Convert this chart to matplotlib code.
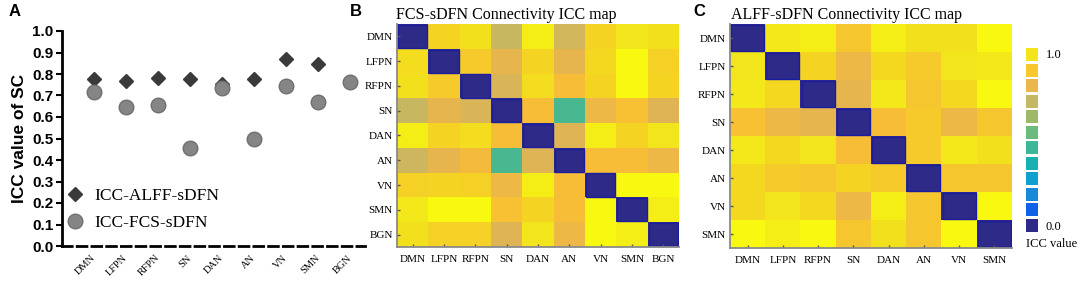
import numpy as np
import matplotlib
matplotlib.use("Agg")
import matplotlib.pyplot as plt
from matplotlib.colors import LinearSegmentedColormap
from matplotlib.patches import Rectangle

# ---------------- data ----------------
networks9 = ["DMN", "LFPN", "RFPN", "SN", "DAN", "AN", "VN", "SMN", "BGN"]
networks8 = ["DMN", "LFPN", "RFPN", "SN", "DAN", "AN", "VN", "SMN"]

icc_alff = [0.775, 0.766, 0.780, 0.775, 0.755, 0.778, 0.872, 0.848]
icc_fcs = [0.714, 0.648, 0.654, 0.455, 0.733, 0.497, 0.744, 0.669, 0.764]

fcs_matrix = [
    [0.00, 0.91, 0.94, 0.74, 0.97, 0.76, 0.91, 0.95, 0.94],
    [0.93, 0.00, 0.89, 0.81, 0.91, 0.81, 0.92, 1.00, 0.90],
    [0.94, 0.89, 0.00, 0.78, 0.93, 0.86, 0.91, 1.00, 0.91],
    [0.74, 0.81, 0.78, 0.00, 0.86, 0.48, 0.83, 0.87, 0.79],
    [0.97, 0.91, 0.93, 0.86, 0.00, 0.79, 0.97, 0.91, 0.95],
    [0.75, 0.81, 0.85, 0.48, 0.79, 0.00, 0.86, 0.86, 0.83],
    [0.90, 0.91, 0.90, 0.83, 0.97, 0.86, 0.00, 1.00, 1.00],
    [0.96, 1.00, 1.00, 0.87, 0.91, 0.86, 1.00, 0.00, 0.97],
    [0.94, 0.90, 0.90, 0.79, 0.95, 0.83, 1.00, 0.97, 0.00],
]

alff_matrix = [
    [0.00, 0.96, 0.97, 0.88, 0.97, 0.94, 0.94, 1.00],
    [0.95, 0.00, 0.91, 0.83, 0.92, 0.89, 0.95, 0.96],
    [0.96, 0.92, 0.00, 0.81, 0.96, 0.88, 0.92, 1.00],
    [0.87, 0.83, 0.81, 0.00, 0.86, 0.89, 0.83, 0.88],
    [0.96, 0.92, 0.95, 0.86, 0.00, 0.89, 0.96, 0.94],
    [0.92, 0.89, 0.88, 0.91, 0.89, 0.00, 0.88, 0.88],
    [0.92, 0.95, 0.92, 0.83, 0.97, 0.88, 0.00, 1.00],
    [1.00, 0.97, 1.00, 0.88, 0.94, 0.88, 1.00, 0.00],
]

cbar_levels = [0.0, 0.09, 0.18, 0.27, 0.36, 0.45, 0.55, 0.64, 0.73, 0.82, 0.88, 0.95]

# ---------------- style ----------------
cmap = LinearSegmentedColormap.from_list("parula_like", [
    (0.00, "#2E2A88"), (0.09, "#1060E8"), (0.18, "#1888D8"), (0.27, "#10A0D0"),
    (0.36, "#18B0B0"), (0.45, "#3CB898"), (0.55, "#6CBA80"), (0.64, "#9CB868"),
    (0.73, "#C4B864"), (0.80, "#E2B454"), (0.86, "#F8BC38"), (0.91, "#F5D422"),
    (0.96, "#F3E81A"), (1.00, "#F8F810")])

SERIF = "Liberation Serif"
SANS = "Liberation Sans"

W, H = 1084, 281
fig = plt.figure(figsize=(W / 100, H / 100), dpi=100)


def px_axes(l, t, r, b):
    return fig.add_axes([l / W, 1 - b / H, (r - l) / W, (b - t) / H])


# ---------------- panel A ----------------
axA = px_axes(62, 31, 365, 246)
xa = np.arange(1, len(icc_alff) + 1)
xf = np.arange(1, len(icc_fcs) + 1)
axA.plot(xa, icc_alff, ls="none", marker="D", ms=7.5, color="#3a3a3a",
         label="ICC-ALFF-sDFN", zorder=2)
axA.plot(xf, icc_fcs, ls="none", marker="o", ms=10.5, mfc="#858585",
         mec="#707070", mew=1, label="ICC-FCS-sDFN", zorder=3)
axA.set_xlim(0, 9.47)
axA.set_ylim(0, 1.0)
axA.set_yticks(np.arange(0, 1.01, 0.1))
axA.set_yticklabels([f"{v:.1f}" for v in np.arange(0, 1.01, 0.1)],
                    fontsize=11, fontweight="bold", family=SANS)
axA.set_xticks(xf)
axA.set_xticklabels(networks9, rotation=45, ha="right", va="center",
                    rotation_mode="anchor", fontsize=7.5, family=SERIF)
axA.tick_params(axis="x", length=0, pad=7.5)
axA.tick_params(axis="y", direction="out", length=4, width=1.5, pad=2)
for s in ("top", "right"):
    axA.spines[s].set_visible(False)
axA.spines["left"].set_linewidth(2)
axA.spines["bottom"].set_linewidth(2)
axA.spines["bottom"].set_linestyle((0, (3.5, 1.8)))
axA.set_ylabel("ICC value of SC", fontsize=12.5, fontweight="bold", family=SANS,
               labelpad=4)
axA.legend(loc="lower left", bbox_to_anchor=(0.01, 0.07), frameon=False,
           prop={"family": SERIF, "size": 12.5}, handletextpad=0.5,
           labelspacing=0.6, borderaxespad=0, borderpad=0, handlelength=1.2)


# ---------------- heatmaps ----------------
def heat(ax, M, labels):
    M = np.array(M)
    n = len(labels)
    ax.imshow(M, cmap=cmap, vmin=0, vmax=1, aspect="auto", interpolation="nearest")
    for i in range(n):
        ax.add_patch(Rectangle((i - 0.47, i - 0.47), 0.94, 0.94, fill=False,
                               ec="#1c1ca0", lw=1.0))
    ax.set_xticks(range(n))
    ax.set_yticks(range(n))
    ax.set_xticklabels(labels, fontsize=8, family=SERIF)
    ax.set_yticklabels(labels, fontsize=8, family=SERIF)
    ax.tick_params(axis="both", direction="in", length=2.5, width=1, color="#555555")
    ax.tick_params(axis="x", pad=6)
    ax.tick_params(axis="y", pad=3)
    for s in ("top", "right"):
        ax.spines[s].set_visible(False)
    for s in ("left", "bottom"):
        ax.spines[s].set_color("#8a8a8a")
        ax.spines[s].set_linewidth(1.3)


axB = px_axes(397, 24, 679, 247)
heat(axB, fcs_matrix, networks9)
axC = px_axes(730, 24, 1012, 248)
heat(axC, alff_matrix, networks8)

fig.text(396 / W, 1 - 15 / H, "FCS-sDFN Connectivity ICC map", fontsize=11.5,
         family=SERIF, va="center", ha="left")
fig.text(731 / W, 1 - 15 / H, "ALFF-sDFN Connectivity ICC map", fontsize=11.5,
         family=SERIF, va="center", ha="left")

# ---------------- colour bar ----------------
axK = px_axes(1026, 47, 1038, 233)
axK.barh(range(len(cbar_levels)), 1, height=0.86, color=cmap(np.array(cbar_levels)))
axK.set_ylim(-0.5, len(cbar_levels) - 0.5)
axK.set_xlim(0, 1)
axK.axis("off")
fig.text(1046 / W, 1 - 55 / H, "1.0", fontsize=9, family=SERIF, va="center", ha="left")
fig.text(1046 / W, 1 - 227 / H, "0.0", fontsize=9, family=SERIF, va="center", ha="left")
fig.text(1052 / W, 1 - 244 / H, "ICC value", fontsize=9, family=SERIF, va="center",
         ha="center")

# ---------------- panel letters ----------------
for x, letter in ((9, "A"), (350, "B"), (693, "C")):
    fig.text(x / W, 1 - 12 / H, letter, fontsize=12, fontweight="bold", family=SANS,
             va="center", ha="left")

fig.savefig("out.png", dpi=100)
